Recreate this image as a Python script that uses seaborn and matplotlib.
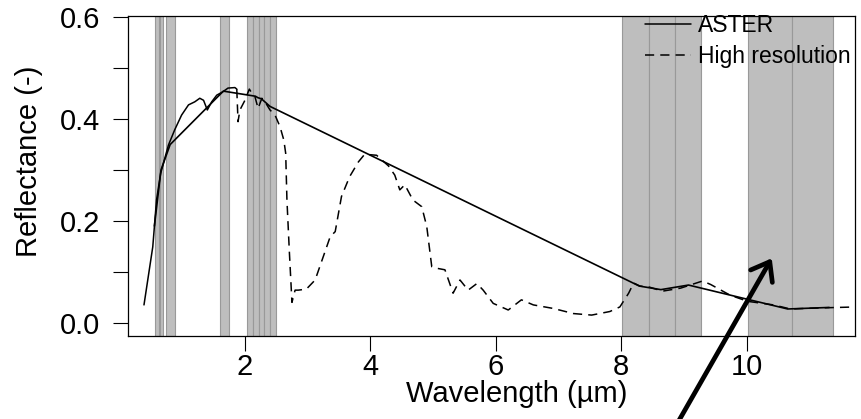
import numpy as np
import pandas as pd
import seaborn as sns
import matplotlib.pyplot as plt
from matplotlib.lines import Line2D

# ASTER band centres (um) and simulated reflectance
aster_wl = [0.556, 0.661, 0.807, 1.656, 2.167, 2.209, 2.262, 2.336, 2.400,
            8.291, 8.634, 9.075, 10.657, 11.318]
aster_refl = [0.19, 0.30, 0.35, 0.455, 0.445, 0.442, 0.440, 0.432, 0.425,
              0.072, 0.065, 0.074, 0.027, 0.030]

# high resolution spectrum
hires_wl = [0.39, 0.53, 0.59, 0.655, 0.78, 0.88, 0.99, 1.10, 1.20, 1.28, 1.34,
            1.40, 1.47, 1.55, 1.65, 1.73, 1.84, 1.87,
            1.89, 1.92, 2.00, 2.07, 2.11, 2.16, 2.21, 2.27, 2.32, 2.40, 2.48,
            2.56, 2.62, 2.65, 2.67, 2.71, 2.75, 2.80, 2.85, 2.98, 3.12, 3.25,
            3.36, 3.44, 3.54, 3.67, 3.81, 3.91, 4.10, 4.29, 4.39, 4.47, 4.55,
            4.68, 4.82, 4.90, 4.98, 5.06, 5.19, 5.32, 5.43, 5.56, 5.70, 5.80,
            5.96, 6.20, 6.41, 6.60, 6.92, 7.24, 7.53, 7.82, 7.98, 8.12, 8.20,
            8.30, 8.45, 8.66, 8.95, 9.30, 9.43, 9.74, 10.02, 10.43, 10.70,
            11.15, 11.75]
hires_refl = [0.035, 0.149, 0.241, 0.293, 0.349, 0.379, 0.408, 0.428, 0.434,
              0.441, 0.437, 0.418, 0.434, 0.447, 0.454, 0.461, 0.462, 0.459,
              0.395, 0.418, 0.437, 0.459, 0.451, 0.444, 0.421, 0.441, 0.434,
              0.418, 0.408, 0.385, 0.359, 0.333, 0.241, 0.136, 0.040, 0.064,
              0.064, 0.066, 0.084, 0.130, 0.169, 0.179, 0.248, 0.287, 0.316,
              0.331, 0.329, 0.308, 0.290, 0.261, 0.271, 0.241, 0.228, 0.189,
              0.110, 0.107, 0.104, 0.058, 0.084, 0.064, 0.077, 0.064, 0.038,
              0.025, 0.045, 0.035, 0.028, 0.018, 0.015, 0.022, 0.031, 0.058,
              0.078, 0.072, 0.070, 0.062, 0.068, 0.082, 0.075, 0.054, 0.042,
              0.035, 0.027, 0.029, 0.031]

# ASTER band limits as shaded in the figure
band_lo = [0.57, 0.65, 0.74, 1.60, 2.03, 2.13, 2.23, 2.31, 2.40,
           8.02, 8.44, 8.86, 10.03, 10.72]
band_hi = [0.625, 0.70, 0.88, 1.75, 2.13, 2.23, 2.31, 2.40, 2.50,
           8.44, 8.86, 9.28, 10.72, 11.38]

sns.set_style("ticks")
plt.rcParams['font.family'] = ['Liberation Sans', 'DejaVu Sans']
plt.rcParams['text.color'] = 'black'
plt.rcParams['axes.labelcolor'] = 'black'
plt.rcParams['xtick.color'] = 'black'
plt.rcParams['ytick.color'] = 'black'

hires = pd.DataFrame({'wl': hires_wl, 'refl': hires_refl})
aster = pd.DataFrame({'wl': aster_wl, 'refl': aster_refl})

fig = plt.figure(figsize=(8.61, 4.19), dpi=100)
ax = fig.add_axes([0.1483, 0.1988, 0.8447, 0.7630])

for lo, hi in zip(band_lo, band_hi):
    ax.axvspan(lo, hi, facecolor='#bebebe', edgecolor='#999999', lw=0.8, zorder=0)

# dense part of the spectrum reads as a solid line in the original
dense = hires[hires['wl'] <= 1.87]
sparse = hires[hires['wl'] >= 1.87]
sns.lineplot(data=dense, x='wl', y='refl', ax=ax, color='black', lw=1.1, zorder=3)
sns.lineplot(data=sparse, x='wl', y='refl', ax=ax, color='black', lw=1.1,
             linestyle=(0, (6, 4)), zorder=3)
sns.lineplot(data=aster, x='wl', y='refl', ax=ax, color='black', lw=1.2, zorder=4)

ax.set_xlim(0.13, 11.73)
ax.set_ylim(-0.0255, 0.6026)
ax.set_xticks([2, 4, 6, 8, 10])
ax.set_yticks([0.0, 0.1, 0.2, 0.3, 0.4, 0.5, 0.6])
ax.set_yticklabels(['0.0', '', '0.2', '', '0.4', '', '0.6'])
ax.tick_params(axis='both', direction='out', length=10.5, width=0.8,
               labelsize=21, color='black', labelcolor='black')
ax.tick_params(axis='y', pad=9)
ax.tick_params(axis='x', pad=2)
for s in ax.spines.values():
    s.set_linewidth(0.9)
    s.set_color('black')

ax.set_xlabel('Wavelength (µm)', fontsize=21, color='black')
ax.set_ylabel('Reflectance (-)', fontsize=21, color='black')
ax.xaxis.set_label_coords(0.535, -0.137)
ax.yaxis.set_label_coords(-0.1165, 0.546)

handles = [Line2D([], [], color='black', lw=1.1),
           Line2D([], [], color='black', lw=1.1, linestyle=(0, (6, 4)))]
ax.legend(handles, ['ASTER', 'High resolution'], loc='upper right',
          bbox_to_anchor=(1.0, 1.02),
          frameon=False, fontsize=16.5, handlelength=2.0, handletextpad=0.3,
          borderaxespad=0.1, borderpad=0.1, labelspacing=0.35)

ax.annotate('', xy=(0.8963, 0.3835), xytext=(0.784, -0.02),
            xycoords='figure fraction', textcoords='figure fraction',
            annotation_clip=False,
            arrowprops=dict(arrowstyle='->,head_length=0.6,head_width=0.45',
                            mutation_scale=20, lw=3.4, color='black',
                            shrinkA=0, shrinkB=0))

fig.savefig('out.png', dpi=100)
